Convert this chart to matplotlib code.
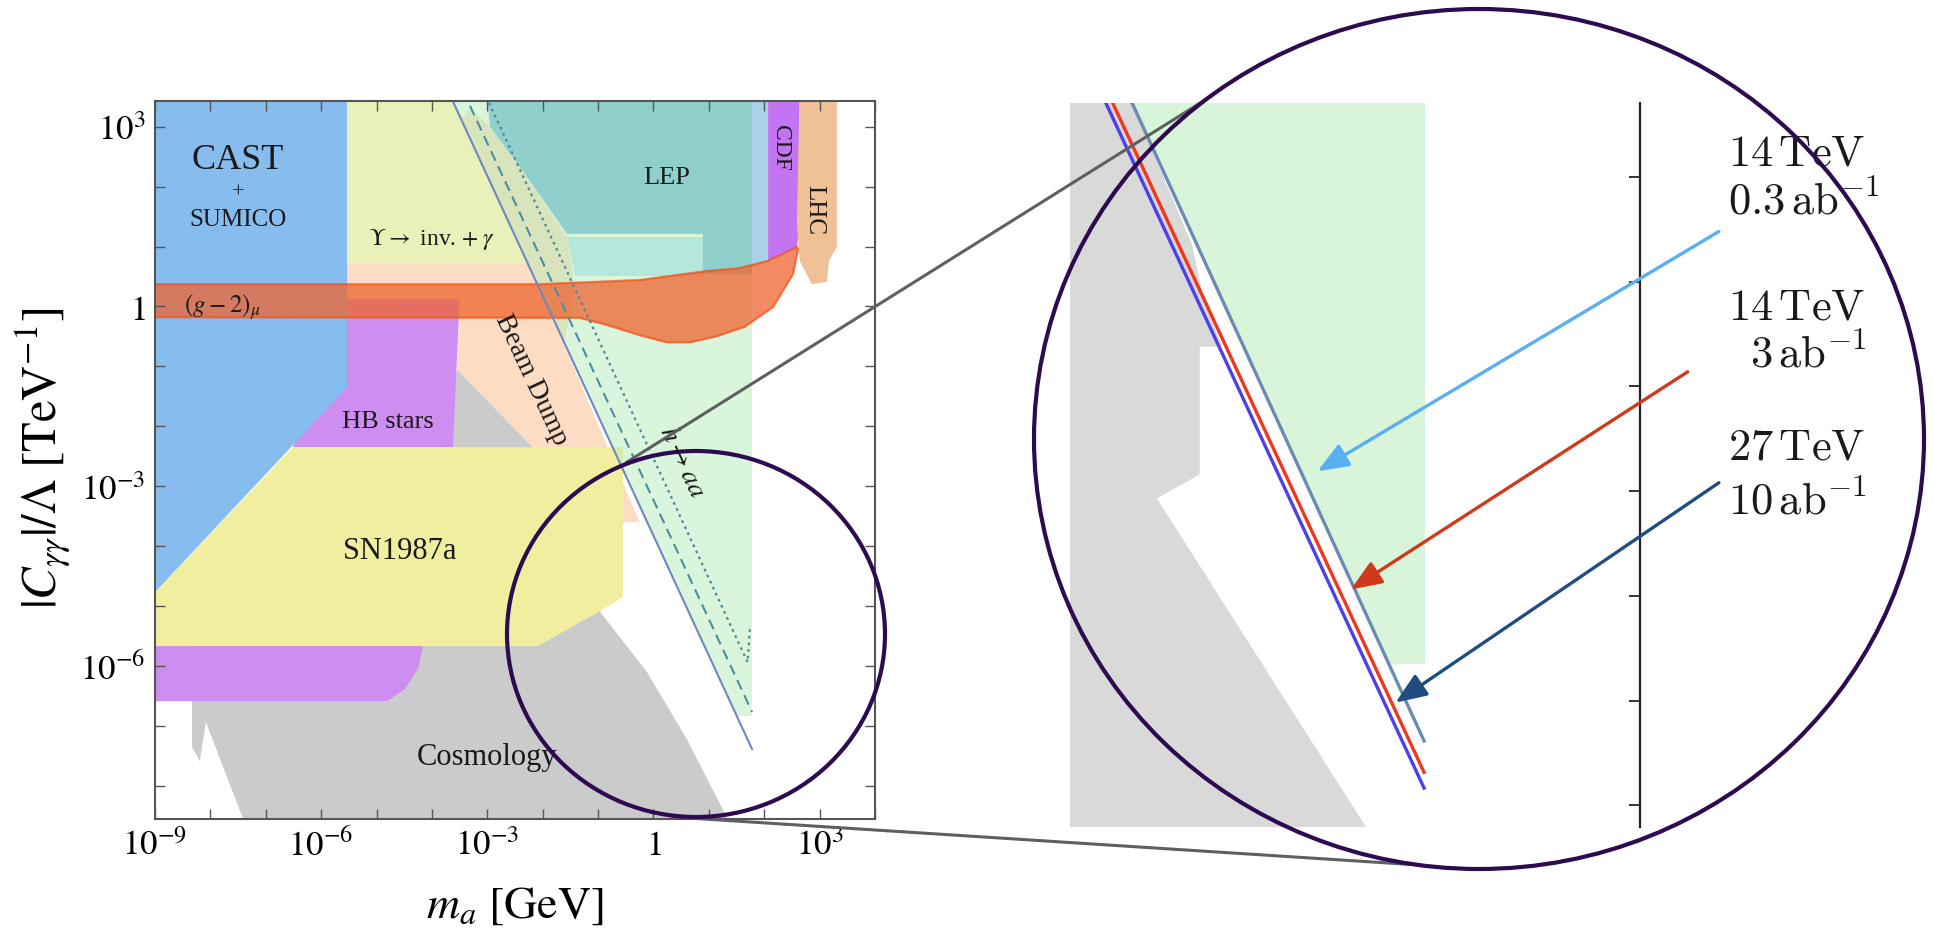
import numpy as np
import matplotlib
matplotlib.use("Agg")
import matplotlib.pyplot as plt
from matplotlib.patches import Ellipse
from matplotlib.lines import Line2D
from matplotlib.ticker import NullLocator

plt.rcParams["font.family"] = ["Liberation Serif", "DejaVu Serif"]
plt.rcParams["mathtext.fontset"] = "stix"

# ---- main panel regions: log10(m_a / GeV) and log10(|C_gg|/Lambda / TeV^-1)
cosmo_m = [-8.33, -8.33, -8.19, -8.08, -7.35, 1.42, 0.60, -0.12, -0.97, -1.33, -2.18, -3.55, -3.86, -4.22, -8.33]
cosmo_c = [-6.59, -7.36, -7.59, -6.94, -8.70, -8.70, -7.22, -6.10, -5.09, -3.22, -2.35, -1.05, -3.22, -5.67, -5.67]

beam_m = [-5.53, -3.31, -2.95, -2.36, -1.56, -1.42, -1.62, -0.25, -0.55, -0.97, -2.18, -3.55, -3.50, -5.53]
beam_c = [0.71, 3.30, 3.00, 2.26, 1.16, 0.29, -0.63, -3.60, -3.60, -2.35, -2.35, -1.05, 0.12, 0.12]

hb_top_m = [-5.53, -3.50, -3.62, -6.51]
hb_top_c = [0.12, 0.12, -2.35, -2.35]
hb_low_m = [-9.2, -4.16, -4.25, -4.49, -4.81, -9.2]
hb_low_c = [-5.67, -5.67, -6.05, -6.39, -6.59, -6.59]

sn_m = [-9.0, -6.51, -0.55, -0.55, -0.97, -2.09, -9.2, -9.2]
sn_c = [-4.77, -2.35, -2.35, -4.85, -5.09, -5.67, -5.67, -4.77]

cast_m = [-9.2, -5.53, -5.53, -9.0, -9.2]
cast_c = [3.6, 3.6, -1.35, -4.77, -4.77]

ups_m = [-5.53, -3.71, -2.27, -5.53]
ups_c = [3.6, 3.6, 0.71, 0.71]

haa_m = [-3.71, 1.78, 1.78, 1.50]
haa_c = [3.6, 3.6, -6.84, -6.84]

lep_m = [-3.02, 1.78, 1.78, 0.89, 0.89, -1.56, -2.36, -2.95]
lep_c = [3.6, 3.6, 0.54, 0.54, 1.21, 1.21, 2.26, 3.00]
lep_low_m = [-1.56, 0.89, 0.89, -1.42]
lep_low_c = [1.16, 1.16, 0.51, 0.51]

strip_m = [1.78, 2.07, 2.07, 1.78]
strip_c = [3.6, 3.6, 0.76, 0.66]
cdf_m = [2.07, 2.64, 2.64, 2.59, 2.07]
cdf_c = [3.6, 3.6, 1.38, 0.99, 0.76]
lhc_m = [2.64, 3.31, 3.31, 3.17, 3.13, 2.86, 2.64, 2.59]
lhc_c = [3.6, 3.6, 0.99, 0.76, 0.41, 0.37, 0.76, 1.38]

gm2_m = [-9.2, -2.05, -0.25, 0.96, 1.56, 2.07, 2.59, 2.61, 2.52, 2.16, 1.65, 1.14, 0.66, 0.24, -0.25, -0.84, -1.33, -9.2]
gm2_c = [0.37, 0.37, 0.44, 0.59, 0.64, 0.76, 0.99, 0.96, 0.54, -0.01, -0.34, -0.50, -0.60, -0.60, -0.48, -0.31, -0.19, -0.18]

# h -> aa reach lines
solid_m, solid_c = [-3.71, 1.78], [3.6, -7.39]
dashed_m, dashed_c = [-3.44, 1.78], [3.6, -6.77]
dotted_m, dotted_c = [-3.07, 1.70, 1.74], [3.6, -5.94, -5.39]

labels = [
    ("CAST", -7.50, 2.46, 26, 0),
    ("+", -7.50, 1.91, 16, 0),
    ("SUMICO", -7.50, 1.46, 18, 0),
    (r"$\Upsilon\rightarrow$ inv. $+\;\gamma$", -4.00, 1.13, 17, 0),
    (r"$(g-2)_\mu$", -7.79, 0.01, 18, 0),
    ("HB stars", -4.79, -1.91, 19, 0),
    ("SN1987a", -4.58, -4.08, 22, 0),
    ("Cosmology", -3.01, -7.52, 22, 0),
    ("LEP", 0.24, 2.16, 19, 0),
    ("CDF", 2.30, 2.66, 17, -90),
    ("LHC", 2.91, 1.63, 18, -90),
    ("Beam Dump", -2.20, -1.21, 20, -65),
    (r"$h\rightarrow aa$", 0.51, -2.58, 20, -65),
]

# ---- zoomed inset (own log scales)
in_gray_m = [-1.86, -1.26, -0.60, -0.48, -0.29, -0.52, -0.52, -0.96, 1.25, -1.86]
in_gray_c = [-0.2, -0.2, -1.64, -2.17, -2.62, -2.62, -3.84, -4.07, -7.3, -7.3]
in_green_m = [-1.26, 1.79, 1.79, 1.42]
in_green_c = [-0.2, -0.2, -5.65, -5.65]
in_lines = {  # name: (logm, logc, color)
    "27 TeV": ([-1.53, 1.79], [-0.2, -6.85], "#4b3ff0"),
    "14 TeV 3": ([-1.46, 1.79], [-0.2, -6.70], "#f2361c"),
    "14 TeV 0.3": ([-1.26, 1.79], [-0.2, -6.40], "#6a8cb2"),
}
arrow_tail_m = [4.81, 4.49, 4.81]
arrow_tail_c = [-1.52, -2.86, -3.92]
arrow_head_m = [0.69, 1.03, 1.49]
arrow_head_c = [-3.81, -4.94, -6.02]
arrow_colors = ["#5aaef2", "#cf3a1c", "#1f4d80"]
inset_text = [r"$14\,\mathrm{TeV}$", r"$0.3\,\mathrm{ab}^{-1}$",
              r"$14\,\mathrm{TeV}$", r"$3\,\mathrm{ab}^{-1}$",
              r"$27\,\mathrm{TeV}$", r"$10\,\mathrm{ab}^{-1}$"]

W, H = 1934, 937
fig = plt.figure(figsize=(W / 100, H / 100), dpi=100)


def fx(px):
    return px / W


def fy(py):
    return 1 - py / H


def region(a, m, c, color, **kw):
    a.fill(10 ** np.asarray(m), 10 ** np.asarray(c), color=color, lw=0, **kw)


ax = fig.add_axes([fx(155), fy(820), fx(875) - fx(155), fy(102) - fy(820)])
ax.set_xscale("log")
ax.set_yscale("log")

region(ax, cosmo_m, cosmo_c, "#cbcbcb")
region(ax, beam_m, beam_c, "#fcdcc2")
region(ax, hb_top_m, hb_top_c, "#cd8df1")
region(ax, hb_low_m, hb_low_c, "#cd8df1")
region(ax, sn_m, sn_c, "#f1ef9f")
region(ax, cast_m, cast_c, "#86bdee")
region(ax, ups_m, ups_c, "#e7f1b9")
region(ax, haa_m, haa_c, "#b5ecb8", alpha=0.5)
region(ax, lep_low_m, lep_low_c, "#b5e8da")
region(ax, lep_m, lep_c, "#8fd0cc")
region(ax, strip_m, strip_c, "#a8d2ea")
region(ax, cdf_m, cdf_c, "#c274f2")
region(ax, lhc_m, lhc_c, "#f0c096")
ax.fill(10 ** np.asarray(gm2_m), 10 ** np.asarray(gm2_c), facecolor="#ee6430",
        alpha=0.75, edgecolor="#f2541a", lw=1.6)

ax.plot(10 ** np.asarray(solid_m), 10 ** np.asarray(solid_c), color="#7088c0", lw=1.5)
ax.plot(10 ** np.asarray(dashed_m), 10 ** np.asarray(dashed_c), color="#4a8ea2", lw=1.5, dashes=(5, 3))
ax.plot(10 ** np.asarray(dotted_m), 10 ** np.asarray(dotted_c), color="#4f86a6", lw=1.6, dashes=(1.2, 1.8))

for txt, m, c, size, rot in labels:
    ax.text(10 ** m, 10 ** c, txt, fontsize=size, rotation=rot, ha="center", va="center",
            rotation_mode="anchor", color="#1a1a1a")

ax.set_xlim(1e-9, 1e4)
ax.set_ylim(10 ** -8.557, 10 ** 3.429)
xdec = np.arange(-9, 5)
ydec = np.arange(-8, 4)
ax.set_xticks(10.0 ** xdec)
ax.set_xticklabels([("$1$" if k == 0 else "$10^{%d}$" % k) if k % 3 == 0 else "" for k in xdec])
ax.set_yticks(10.0 ** ydec)
ax.set_yticklabels([("$1$" if k == 0 else "$10^{%d}$" % k) if k % 3 == 0 else "" for k in ydec])
ax.xaxis.set_minor_locator(NullLocator())
ax.yaxis.set_minor_locator(NullLocator())
ax.tick_params(which="both", direction="in", top=True, right=True, length=7, width=1,
               color="#555555", labelsize=25, pad=7)
for s in ax.spines.values():
    s.set_color("#555555")
    s.set_linewidth(1.5)

fig.text(fx(42), fy(458), r"$|C_{\gamma\gamma}|/\Lambda\ [\mathrm{TeV}^{-1}]$",
         rotation=90, ha="center", va="center", fontsize=35)
fig.text(fx(515), fy(907), r"$m_a\ [\mathrm{GeV}]$", ha="center", va="center", fontsize=33)

# ---- inset
axi = fig.add_axes([fx(1070), fy(828), fx(1640) - fx(1070), fy(104) - fy(828)])
axi.set_xscale("log")
axi.set_yscale("log")
region(axi, in_gray_m, in_gray_c, "#d9d9d9")
region(axi, in_green_m, in_green_c, "#d8f5d9")
for name, (m, c, col) in in_lines.items():
    axi.plot(10 ** np.asarray(m), 10 ** np.asarray(c), color=col, lw=2.4, solid_capstyle="butt")
axi.set_xlim(10 ** -1.852, 1e4)
axi.set_ylim(10 ** -7.208, 10 ** -0.293)
axi.patch.set_alpha(0)
for s in ["left", "top", "bottom"]:
    axi.spines[s].set_visible(False)
axi.spines["right"].set_color("#222222")
axi.spines["right"].set_linewidth(1.6)
axi.set_xticks([])
axi.xaxis.set_minor_locator(NullLocator())
axi.set_yticks(10.0 ** np.arange(-7, 0))
axi.yaxis.set_minor_locator(NullLocator())
axi.tick_params(axis="y", which="major", direction="in", length=8, width=1.3, color="#222222",
                left=False, right=True, labelleft=False, labelright=False)

for tm, tc, hm, hc, col in zip(arrow_tail_m, arrow_tail_c, arrow_head_m, arrow_head_c, arrow_colors):
    axi.annotate("", xy=(10 ** hm, 10 ** hc), xytext=(10 ** tm, 10 ** tc),
                 xycoords="data", textcoords="data", annotation_clip=False,
                 arrowprops=dict(arrowstyle="-|>,head_length=1.0,head_width=0.4",
                                 color=col, lw=2.4, shrinkA=0, shrinkB=0,
                                 mutation_scale=19, clip_on=False))

text_x = [1728, 1728, 1728, 1750, 1728, 1728]
text_y = [154, 202, 309, 355, 449, 502]
for t, x, y in zip(inset_text, text_x, text_y):
    fig.text(fx(x), fy(y), t, ha="left", va="center", fontsize=32, math_fontfamily="cm",
             color="#1a1a1a")

# ---- zoom decorations
fig.add_artist(Line2D([fx(627), fx(1205)], [fy(463), fy(101)], transform=fig.transFigure,
                      color="#5e6060", lw=2.2))
fig.add_artist(Line2D([fx(673), fx(1419)], [fy(818), fy(866)], transform=fig.transFigure,
                      color="#5e6060", lw=2.2))
fig.add_artist(Ellipse((fx(696), fy(635)), 378 / W, 366 / H, transform=fig.transFigure,
                       fill=False, ec="#2e0b50", lw=3, zorder=5))
fig.add_artist(Ellipse((fx(1479), fy(440)), 890 / W, 860 / H, transform=fig.transFigure,
                       fill=False, ec="#2e0b50", lw=3, zorder=5))

fig.savefig("out.png", dpi=100)
